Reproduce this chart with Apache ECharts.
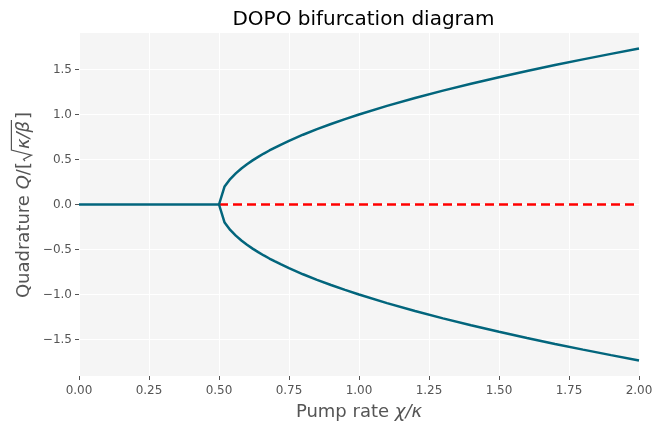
<!DOCTYPE html>
<html><head><meta charset="utf-8">
<script src="https://cdn.jsdelivr.net/npm/echarts@6/dist/echarts.min.js"></script>
<style>html,body{margin:0;padding:0;background:#fff}#c{width:653px;height:423px}</style>
</head><body><div id="c"></div>
<script>
// Data
const stableZeroX = [0.0, 0.5];
const stableZeroQ = [0.0, 0.0];
const unstableX = [0.5, 2.0];
const unstableQ = [0.0, 0.0];
const branchX = [0.5, 0.52, 0.54, 0.56, 0.58, 0.6, 0.62, 0.64, 0.66, 0.68, 0.7, 0.72, 0.75, 0.8, 0.85, 0.9, 0.95, 1.0, 1.1, 1.2, 1.3, 1.4, 1.5, 1.6, 1.7, 1.8, 1.9, 2.0];
const upperQ = [0.0, 0.2, 0.283, 0.346, 0.4, 0.447, 0.49, 0.529, 0.566, 0.6, 0.632, 0.663, 0.707, 0.775, 0.837, 0.894, 0.949, 1.0, 1.095, 1.183, 1.265, 1.342, 1.414, 1.483, 1.549, 1.612, 1.673, 1.732];
const lowerQ = [0.0, -0.2, -0.283, -0.346, -0.4, -0.447, -0.49, -0.529, -0.566, -0.6, -0.632, -0.663, -0.707, -0.775, -0.837, -0.894, -0.949, -1.0, -1.095, -1.183, -1.265, -1.342, -1.414, -1.483, -1.549, -1.612, -1.673, -1.732];
const yTicks = [-1.5, -1.0, -0.5, 0.0, 0.5, 1.0, 1.5];

const pair = (xs, ys) => xs.map((x, i) => [x, ys[i]]);
const FONT = 'DejaVu Sans';
const LBL = '#555555';
const FS = 18;
const blue = '#02657c';

// --- y-axis label built from text pieces (rotated), with a radical sign + overline
const mctx = document.createElement('canvas').getContext('2d');
function tw(t, italic) { mctx.font = (italic ? 'italic ' : '') + FS + 'px "' + FONT + '"'; return mctx.measureText(t).width; }
const pieces = [
  {t: 'Quadrature ', it: false},
  {t: 'Q', it: true},
  {t: '/[', it: false},
  {t: 'RAD'},
  {t: 'κ/β', it: true, over: true},
  {t: ']', it: false}
];
const radW = 13;
let cx = 0;
const yChildren = [];
let overStart = 0, overEnd = 0, radStart = 0;
for (const p of pieces) {
  if (p.t === 'RAD') { radStart = cx; cx += radW; continue; }
  const w = tw(p.t, p.it);
  if (p.over) { overStart = cx; overEnd = cx + w + 1; }
  yChildren.push({
    type: 'text', x: cx, y: 0,
    style: {text: p.t, fontFamily: FONT, fontSize: FS, fontStyle: p.it ? 'italic' : 'normal',
      fill: LBL, align: 'left', verticalAlign: 'bottom'}
  });
  cx += w + (p.over ? 2 : 0);
}
const totalLen = cx;
const topY = -FS * 1.2;
yChildren.push({
  type: 'polyline',
  shape: {points: [[radStart + 1, -8], [radStart + 3, -9.5], [radStart + 7, -1.5], [radStart + radW - 1, topY], [overEnd, topY]]},
  style: {stroke: LBL, lineWidth: 1.2, fill: null}
});

const chart = echarts.init(document.getElementById('c'), null, {renderer: 'canvas'});
chart.setOption({
  animation: false,
  backgroundColor: '#ffffff',
  title: {
    text: 'DOPO bifurcation diagram', left: 358.5, top: 5, textAlign: 'center',
    textStyle: {fontFamily: FONT, fontSize: 20, fontWeight: 'normal', color: '#000'}
  },
  grid: {left: 79, right: 14, top: 33, bottom: 47, show: true, backgroundColor: '#f5f5f5', borderWidth: 0,
    outerBoundsMode: 'none', containLabel: false},
  xAxis: {
    type: 'value', min: 0, max: 2, interval: 0.25,
    name: '{n|Pump rate }{i|χ/κ}', nameLocation: 'middle', nameGap: 27,
    nameTextStyle: {fontFamily: FONT, fontSize: FS, color: LBL,
      rich: {n: {fontFamily: FONT, fontSize: FS, color: LBL}, i: {fontFamily: FONT, fontSize: FS, color: LBL, fontStyle: 'italic'}}},
    axisLine: {show: false, onZero: false},
    axisTick: {show: true, length: 4, lineStyle: {color: LBL}},
    axisLabel: {fontFamily: FONT, fontSize: 12, color: LBL, margin: 9, formatter: v => v.toFixed(2)},
    splitLine: {show: true, lineStyle: {color: '#ffffff', width: 1}}
  },
  yAxis: {
    type: 'value', min: -1.905, max: 1.905,
    axisLine: {show: false, onZero: false},
    axisTick: {show: true, length: 4, lineStyle: {color: LBL}, customValues: yTicks},
    axisLabel: {fontFamily: FONT, fontSize: 12, color: LBL, margin: 7, customValues: yTicks,
      formatter: v => (v < 0 ? '\u2212' : '') + Math.abs(v).toFixed(1)},
    splitLine: {show: true, lineStyle: {color: '#ffffff', width: 1}}
  },
  graphic: [{
    type: 'group', x: 33, y: 205 + totalLen / 2, rotation: Math.PI / 2,
    children: yChildren
  }],
  series: [
    {type: 'line', data: pair(unstableX, unstableQ), showSymbol: false, lineStyle: {color: '#ff0000', width: 2.5, type: [9, 5]}, z: 2},
    {type: 'line', data: pair(stableZeroX, stableZeroQ), showSymbol: false, lineStyle: {color: blue, width: 2.5}, z: 3},
    {type: 'line', data: pair(branchX, upperQ), showSymbol: false, lineStyle: {color: blue, width: 2.5}, z: 3},
    {type: 'line', data: pair(branchX, lowerQ), showSymbol: false, lineStyle: {color: blue, width: 2.5}, z: 3}
  ]
});
</script></body></html>
